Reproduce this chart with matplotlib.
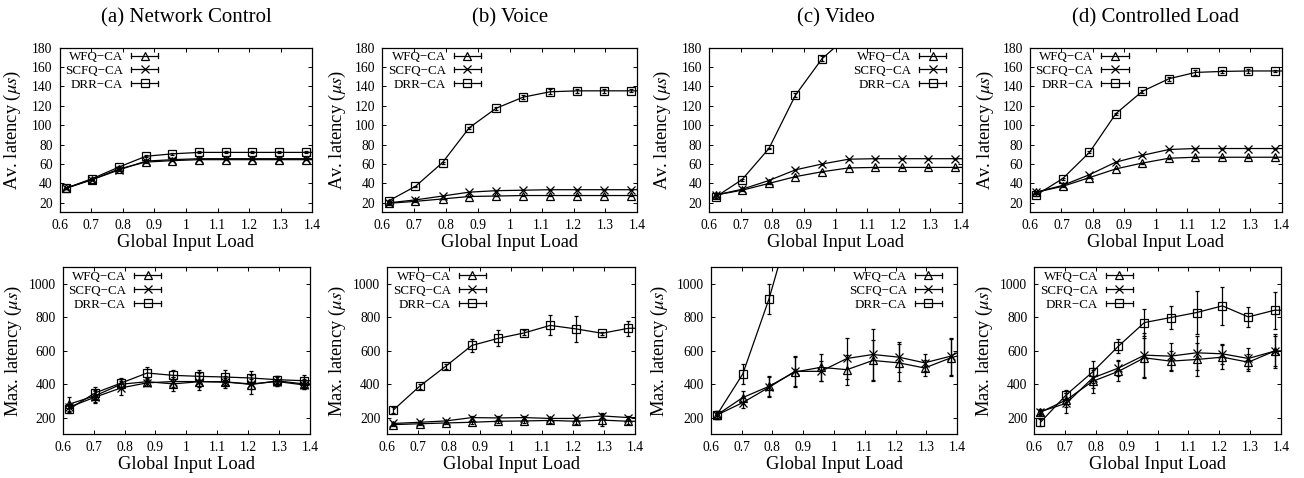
import numpy as np
import matplotlib
matplotlib.use('Agg')
import matplotlib.pyplot as plt
from matplotlib.lines import Line2D
from matplotlib.legend_handler import HandlerBase

plt.rcParams['font.family'] = ['Liberation Serif', 'DejaVu Serif']
plt.rcParams['mathtext.fontset'] = 'stix'

nan = np.nan
# ---------------- data ----------------
load = [0.620, 0.704, 0.789, 0.873, 0.957, 1.042, 1.126, 1.210, 1.294, 1.379, 1.463]
titles = ["(a) Network Control", "(b) Voice", "(c) Video", "(d) Controlled Load"]
series_names = ["WFQ\u2212CA", "SCFQ\u2212CA", "DRR\u2212CA"]
xticks = [0.6, 0.7, 0.8, 0.9, 1.0, 1.1, 1.2, 1.3, 1.4]
xtick_labels = ["0.6", "0.7", "0.8", "0.9", "1", "1.1", "1.2", "1.3", "1.4"]
avg_yticks = [20, 40, 60, 80, 100, 120, 140, 160, 180]
max_yticks = [200, 400, 600, 800, 1000]

# Average latency (us)
nc_avg_wfq = [35, 44, 55, 62, 63.5, 64.5, 64.5, 64.5, 64.5, 64.5, 64.5]
nc_avg_scfq = [35, 44, 54, 63, 64.5, 65.5, 65.5, 65.5, 65.5, 65.5, 65.5]
nc_avg_drr = [35, 45, 57, 68, 70.5, 72, 72, 72, 72, 72, 72]
voice_avg_wfq = [19.5, 21.5, 24, 26.5, 27, 27.5, 27.5, 27.5, 27.5, 27.5, 27.5]
voice_avg_scfq = [20, 23, 27, 31, 32.5, 33, 33.5, 33.5, 33.5, 33.5, 33.5]
voice_avg_drr = [22, 37, 61.5, 97.5, 117.5, 129, 134.5, 135.5, 135.5, 135.5, 135.5]
video_avg_wfq = [28, 33, 40, 47, 52, 56, 56.5, 56.5, 56.5, 56.5, 56.5]
video_avg_scfq = [28, 34, 43, 54, 60, 65, 65.5, 65.5, 65.5, 65.5, 65.5]
video_avg_drr = [26, 44, 76, 131, 168.5, 193, nan, nan, nan, nan, nan]
cl_avg_wfq = [31, 37, 46, 55, 61, 66, 67, 67, 67, 67, 67]
cl_avg_scfq = [31, 38, 49, 62, 69, 75, 76, 76, 76, 76, 76]
cl_avg_drr = [28, 45, 72, 112, 135, 148, 154.5, 155.5, 156, 156, 156]

# Average latency error bars
nc_avg_wfq_err = [0.5] * 11
nc_avg_scfq_err = [0.5] * 11
nc_avg_drr_err = [0.5, 0.5, 0.5, 0.8, 0.8, 1, 1, 1, 1, 1, 1]
voice_avg_wfq_err = [0.3] * 11
voice_avg_scfq_err = [0.3] * 11
voice_avg_drr_err = [0.8, 0.8, 1, 1, 1.5, 2, 2.5, 2, 2, 1.5, 1.5]
video_avg_wfq_err = [0.5] * 11
video_avg_scfq_err = [0.5] * 11
video_avg_drr_err = [1, 1, 1, 2, 2.5, 3, nan, nan, nan, nan, nan]
cl_avg_wfq_err = [0.5] * 11
cl_avg_scfq_err = [0.5] * 11
cl_avg_drr_err = [1, 1, 1, 1, 1.5, 2, 2.5, 2, 2.5, 1.5, 1.5]

# Maximum latency (us)
nc_max_wfq = [280, 330, 400, 415, 402, 415, 415, 398, 420, 402, 402]
nc_max_scfq = [262, 322, 378, 408, 416, 416, 412, 402, 416, 396, 396]
nc_max_drr = [250, 347, 407, 467, 453, 447, 443, 437, 427, 421, 421]
voice_max_wfq = [158, 163, 168, 172, 178, 180, 183, 178, 185, 178, 178]
voice_max_scfq = [165, 172, 180, 200, 198, 200, 195, 195, 210, 200, 200]
voice_max_drr = [246, 387, 508, 632, 674, 707, 752, 731, 705, 735, 735]
video_max_wfq = [216, 320, 387, 473, 501, 487, 542, 528, 497, 558, 600]
video_max_scfq = [215, 290, 381, 477, 477, 554, 578, 562, 528, 568, 650]
video_max_drr = [216, 461, 910, 1450, nan, nan, nan, nan, nan, nan, nan]
cl_max_wfq = [232, 306, 417, 477, 558, 538, 548, 562, 532, 598, 598]
cl_max_scfq = [236, 286, 437, 497, 574, 568, 588, 582, 554, 598, 598]
cl_max_drr = [172, 337, 473, 628, 769, 799, 829, 869, 803, 843, 843]

# Maximum latency error bars
nc_max_wfq_err = [45, 35, 30, 25, 40, 50, 35, 55, 30, 30, 30]
nc_max_scfq_err = [20, 35, 40, 20, 30, 35, 25, 30, 25, 25, 25]
nc_max_drr_err = [20, 35, 30, 35, 35, 40, 45, 40, 25, 35, 35]
voice_max_wfq_err = [8, 8, 8, 10, 10, 12, 15, 15, 35, 15, 15]
voice_max_scfq_err = [8, 8, 8, 10, 10, 10, 10, 10, 15, 10, 10]
voice_max_drr_err = [20, 15, 15, 40, 48, 15, 60, 80, 10, 45, 45]
video_max_wfq_err = [25, 40, 60, 90, 80, 90, 120, 110, 50, 110, 110]
video_max_scfq_err = [25, 30, 60, 90, 60, 120, 150, 90, 50, 110, 110]
video_max_drr_err = [20, 57, 90, 100, nan, nan, nan, nan, nan, nan, nan]
cl_max_wfq_err = [15, 40, 70, 60, 120, 60, 100, 70, 50, 100, 100]
cl_max_scfq_err = [15, 60, 60, 50, 130, 80, 100, 60, 60, 90, 90]
cl_max_drr_err = [20, 30, 65, 40, 80, 70, 130, 115, 60, 110, 110]

avg_panels = [
    ((nc_avg_wfq, nc_avg_wfq_err), (nc_avg_scfq, nc_avg_scfq_err), (nc_avg_drr, nc_avg_drr_err)),
    ((voice_avg_wfq, voice_avg_wfq_err), (voice_avg_scfq, voice_avg_scfq_err), (voice_avg_drr, voice_avg_drr_err)),
    ((video_avg_wfq, video_avg_wfq_err), (video_avg_scfq, video_avg_scfq_err), (video_avg_drr, video_avg_drr_err)),
    ((cl_avg_wfq, cl_avg_wfq_err), (cl_avg_scfq, cl_avg_scfq_err), (cl_avg_drr, cl_avg_drr_err)),
]
max_panels = [
    ((nc_max_wfq, nc_max_wfq_err), (nc_max_scfq, nc_max_scfq_err), (nc_max_drr, nc_max_drr_err)),
    ((voice_max_wfq, voice_max_wfq_err), (voice_max_scfq, voice_max_scfq_err), (voice_max_drr, voice_max_drr_err)),
    ((video_max_wfq, video_max_wfq_err), (video_max_scfq, video_max_scfq_err), (video_max_drr, video_max_drr_err)),
    ((cl_max_wfq, cl_max_wfq_err), (cl_max_scfq, cl_max_scfq_err), (cl_max_drr, cl_max_drr_err)),
]

# ---------------- style ----------------
markers = ['^', 'x', 's']
W, H = 1304, 478
fig = plt.figure(figsize=(W / 100, H / 100), dpi=100)

top_boxes = [(59.5, 312.3), (382.3, 637.3), (709.3, 961.7), (1030, 1281.7)]
bot_boxes = [(62.7, 310), (387.3, 635), (710.7, 957.3), (1034.3, 1281)]
top_y = (47.7, 212.5)
bot_y = (267.3, 434.3)
top_ylab_off = [36, 34, 36, 34]
bot_ylab_off = [39, 39, 41, 39]


class GPHandler(HandlerBase):
    def create_artists(self, legend, orig_handle, xdescent, ydescent, width,
                       height, fontsize, trans):
        y = height / 2 - ydescent
        x0, x1 = -xdescent, -xdescent + width
        cap = height * 0.28
        arts = [
            Line2D([x0, x1], [y, y], color='k', lw=0.9),
            Line2D([x0, x0], [y - cap, y + cap], color='k', lw=0.9),
            Line2D([x1, x1], [y - cap, y + cap], color='k', lw=0.9),
            Line2D([(x0 + x1) / 2], [y], marker=orig_handle.get_marker(),
                   ms=orig_handle.get_markersize(), mfc='none', mec='k',
                   mew=0.9, ls='none'),
        ]
        for a in arts:
            a.set_transform(trans)
        return arts


def make_axes(box, ybox):
    l, r = box
    t, b = ybox
    return fig.add_axes([l / W, 1 - b / H, (r - l) / W, (b - t) / H])


def draw(ax, panel, ylim, yticks, ylabel, leg_right, box):
    for (vals, errs), mk in zip(panel, markers):
        ax.errorbar(load, vals, yerr=errs, color='k', lw=0.9, elinewidth=0.9,
                    capsize=1.6, capthick=0.9, marker=mk, ms=6.2, mfc='none',
                    mec='k', mew=0.9)
    ax.set_xlim(0.6, 1.4)
    ax.set_ylim(*ylim)
    ax.set_xticks(xticks)
    ax.set_xticklabels(xtick_labels)
    ax.set_yticks(yticks)
    ax.tick_params(direction='in', top=True, right=True, labelsize=9.8,
                   length=3, width=0.7, pad=5)
    for s in ax.spines.values():
        s.set_linewidth(0.9)
    ax.set_ylabel(ylabel, fontsize=13.3)
    ax.set_xlabel("Global Input Load", fontsize=13.3, labelpad=1)
    handles = [Line2D([], [], marker=mk, ms=6.2, color='k') for mk in markers]
    wpx = box[1] - box[0]
    if leg_right:
        anchor = (1 - 12 / wpx, 1.0)
    else:
        anchor = (102 / wpx, 1.0)
    ax.legend(handles, series_names, loc='upper right', bbox_to_anchor=anchor,
              frameon=False, markerfirst=False, fontsize=9.4,
              handler_map={Line2D: GPHandler()}, handlelength=2.1,
              handletextpad=0.6, labelspacing=0.14, borderpad=0.15,
              borderaxespad=0.1)


for i in range(4):
    ax = make_axes(top_boxes[i], top_y)
    draw(ax, avg_panels[i], (10, 180), avg_yticks,
         r"Av. latency ($\mu s$)", i == 2, top_boxes[i])
    ax.yaxis.set_label_coords(-top_ylab_off[i] / (top_boxes[i][1] - top_boxes[i][0]), 0.5)
    cx = (top_boxes[i][0] + top_boxes[i][1]) / 2 / W
    fig.text(cx, 1 - 18 / H, titles[i], ha='center', va='center', fontsize=15)

    ax2 = make_axes(bot_boxes[i], bot_y)
    draw(ax2, max_panels[i], (100, 1100), max_yticks,
         r"Max. latency ($\mu s$)", i == 2, bot_boxes[i])
    ax2.yaxis.set_label_coords(-bot_ylab_off[i] / (bot_boxes[i][1] - bot_boxes[i][0]), 0.5)

fig.savefig("out.png", dpi=100)
